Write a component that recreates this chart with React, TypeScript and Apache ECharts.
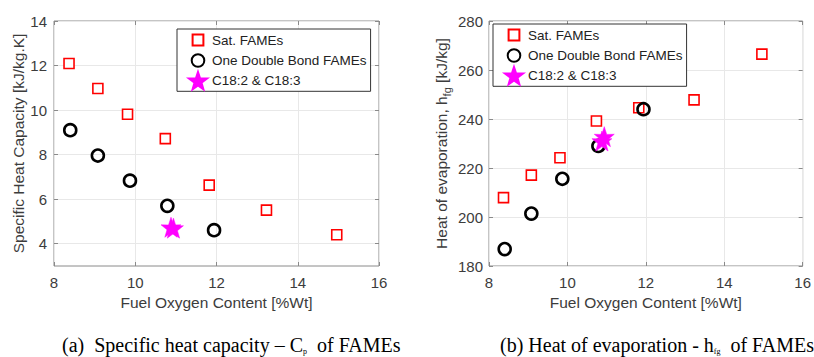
import React, { useEffect, useRef } from "react";
import * as echarts from "echarts";

// Fuel oxygen content [%Wt]
const satX = [8.37, 9.08, 9.81, 10.74, 11.82, 13.23, 14.96];
const dbX = [8.4, 9.08, 9.87, 10.79, 11.94];
const polyX = [10.88, 10.94];

// (a) Specific heat capacity [kJ/kg.K]
const satCp = [12.09, 10.97, 9.81, 8.72, 6.63, 5.51, 4.4];
const dbCp = [9.1, 7.96, 6.83, 5.7, 4.61];
const polyCp = [4.74, 4.7];

// (b) Heat of evaporation [kJ/kg]
const satHfg = [207.9, 217.1, 224.2, 239.2, 244.6, 247.8, 266.5];
const dbHfg = [186.9, 201.4, 215.6, 229.0, 244.0];
const polyHfg = [231.0, 232.8];

const cpTicks = [4, 6, 8, 10, 12, 14];

const seriesNames = ["Sat. FAMEs", "One Double Bond FAMEs", "C18:2 & C18:3"];

const STAR =
  "path://M50,0 L61.8,35.1 L97.6,34.5 L69.1,56.7 L79.4,90.5 L50,70 L20.6,90.5 L30.9,56.7 L2.4,34.5 L38.2,35.1 Z";
const LEG_SQUARE = "path://M0,0 M100,100 M20,20 L80,20 L80,80 L20,80 Z";
const LEG_CIRCLE =
  "path://M0,0 M100,100 M15,50 A35,35 0 1 1 85,50 A35,35 0 1 1 15,50 Z";
const LEG_STAR =
  "path://M50,-5 L62.5,33 L102,33 L70,56.5 L81,95 L50,72 L19,95 L30,56.5 L-2,33 L37.5,33 Z";

const FONT = "Liberation Sans, Arial, sans-serif";
const TXT = "#3c3c3c";
const FRAME = "#8a8a8a";
const GRIDC = "#e8e8e8";

const zip = (xs: number[], ys: number[]) => xs.map((x, i) => [x, ys[i]]);

export default function App() {
  const ref = useRef<HTMLDivElement>(null);
  useEffect(() => {
    if (!ref.current) return;
    const chart = echarts.init(ref.current, undefined, { renderer: "svg" });

    const grids = [
      { left: 54, top: 21, width: 325, height: 245 },
      { left: 489, top: 21, width: 318, height: 245 },
    ].map((g) => ({
      ...g,
      show: true,
      borderColor: FRAME,
      borderWidth: 1,
      backgroundColor: "transparent",
    }));

    const tickStyle = { show: true, inside: true, length: 4, lineStyle: { color: FRAME } };

    const xAxisBottom = (gi: number) => ({
      type: "value",
      gridIndex: gi,
      position: "bottom",
      min: 8,
      max: 16,
      interval: 2,
      name: "Fuel Oxygen Content [%Wt]",
      nameLocation: "middle",
      nameGap: 28,
      nameTextStyle: { fontFamily: FONT, fontSize: 15.5, color: TXT },
      axisLine: { show: false },
      axisTick: tickStyle,
      axisLabel: { margin: 9, fontFamily: FONT, fontSize: 15, color: TXT },
      splitLine: { show: true, lineStyle: { color: GRIDC, width: 1 } },
    });
    const xAxisTop = (gi: number) => ({
      type: "value",
      gridIndex: gi,
      position: "top",
      min: 8,
      max: 16,
      interval: 2,
      axisLine: { show: false },
      axisTick: tickStyle,
      axisLabel: { show: false },
      splitLine: { show: false },
    });

    const legendData = [
      { name: seriesNames[0], icon: LEG_SQUARE },
      { name: seriesNames[1], icon: LEG_CIRCLE },
      { name: seriesNames[2], icon: LEG_STAR },
    ];
    const legendBase = {
      orient: "vertical",
      padding: [1, 4, 1, 11],
      itemGap: 0.5,
      itemWidth: 18,
      itemHeight: 18,
      backgroundColor: "#ffffff",
      borderColor: "#333333",
      borderWidth: 1,
      borderRadius: 0,
      textStyle: { fontFamily: FONT, fontSize: 13.5, color: "#222" },
      data: legendData,
    };

    const option: any = {
      animation: false,
      backgroundColor: "#ffffff",
      grid: grids,
      xAxis: [xAxisBottom(0), xAxisTop(0), xAxisBottom(1), xAxisTop(1)],
      yAxis: [
        {
          type: "value",
          gridIndex: 0,
          position: "left",
          min: 3,
          max: 14,
          name: "Specific Heat Capacity [kJ/kg.K]",
          nameLocation: "middle",
          nameGap: 25,
          nameTextStyle: { fontFamily: FONT, fontSize: 15.5, color: TXT },
          axisLine: { show: false },
          axisTick: { ...tickStyle, customValues: cpTicks },
          axisLabel: { margin: 7, fontFamily: FONT, fontSize: 15, color: TXT, customValues: cpTicks },
          splitLine: { show: true, lineStyle: { color: GRIDC, width: 1 } },
        },
        {
          type: "value",
          gridIndex: 0,
          position: "right",
          min: 3,
          max: 14,
          axisLine: { show: false },
          axisTick: { ...tickStyle, customValues: cpTicks },
          axisLabel: { show: false, customValues: cpTicks },
          splitLine: { show: false },
        },
        {
          type: "value",
          gridIndex: 1,
          position: "left",
          min: 180,
          max: 280,
          interval: 20,
          name: "Heat of evaporation, h{sub|fg} [kJ/kg]",
          nameLocation: "middle",
          nameGap: 37,
          nameTextStyle: {
            fontFamily: FONT,
            fontSize: 15.5,
            color: TXT,
            rich: {
              sub: { fontFamily: FONT, fontSize: 11, color: TXT, verticalAlign: "bottom", padding: [10, 0, 0, 0] },
            },
          },
          axisLine: { show: false },
          axisTick: tickStyle,
          axisLabel: { margin: 6, fontFamily: FONT, fontSize: 15, color: TXT },
          splitLine: { show: true, lineStyle: { color: GRIDC, width: 1 } },
        },
        {
          type: "value",
          gridIndex: 1,
          position: "right",
          min: 180,
          max: 280,
          interval: 20,
          axisLine: { show: false },
          axisTick: tickStyle,
          axisLabel: { show: false },
          splitLine: { show: false },
        },
      ],
      legend: [
        { ...legendBase, left: 177, top: 29 },
        { ...legendBase, left: 493, top: 24 },
      ],
      series: [
        ...[0, 1].flatMap((gi) => {
          const xi = gi * 2;
          const yi = gi * 2;
          const sat = gi === 0 ? satCp : satHfg;
          const db = gi === 0 ? dbCp : dbHfg;
          const poly = gi === 0 ? polyCp : polyHfg;
          return [
            {
              type: "scatter",
              name: seriesNames[0],
              xAxisIndex: xi,
              yAxisIndex: yi,
              data: zip(satX, sat),
              symbol: "rect",
              symbolSize: 10,
              itemStyle: { color: "#ffffff", borderColor: "#ff0000", borderWidth: 1.6, opacity: 1 },
              z: 2,
            },
            {
              type: "scatter",
              name: seriesNames[1],
              xAxisIndex: xi,
              yAxisIndex: yi,
              data: zip(dbX, db),
              symbol: "circle",
              symbolSize: 12,
              itemStyle: { color: "rgba(255,255,255,0)", borderColor: "#000000", borderWidth: 2.6, opacity: 1 },
              z: 3,
            },
            {
              type: "scatter",
              name: seriesNames[2],
              xAxisIndex: xi,
              yAxisIndex: yi,
              data: zip(polyX, poly),
              symbol: STAR,
              symbolSize: 20,
              itemStyle: { color: "#ff00ff", borderColor: "#ff00ff", borderWidth: 0.5, opacity: 1 },
              z: 4,
            },
          ];
        }),
      ],
      graphic: [
        {
          type: "text",
          left: 62,
          top: 335,
          style: {
            text: "(a)  Specific heat capacity – C{sub|p}  of FAMEs",
            fontFamily: "Liberation Serif, Times New Roman, serif",
            fontSize: 20,
            fill: "#000",
            rich: {
              sub: { fontFamily: "Liberation Serif, serif", fontSize: 8, verticalAlign: "bottom", padding: [8, 0, 0, 0] },
            },
          },
        },
        {
          type: "text",
          left: 500,
          top: 335,
          style: {
            text: "(b) Heat of evaporation - h{sub|fg}  of FAMEs",
            fontFamily: "Liberation Serif, Times New Roman, serif",
            fontSize: 20,
            fill: "#000",
            rich: {
              sub: { fontFamily: "Liberation Serif, serif", fontSize: 8, verticalAlign: "bottom", padding: [8, 0, 0, 0] },
            },
          },
        },
      ],
    };

    chart.setOption(option);
    return () => chart.dispose();
  }, []);

  return (
    <div
      ref={ref}
      style={{ position: "absolute", left: 0, top: 0, width: 814, height: 357, background: "#fff" }}
    />
  );
}
